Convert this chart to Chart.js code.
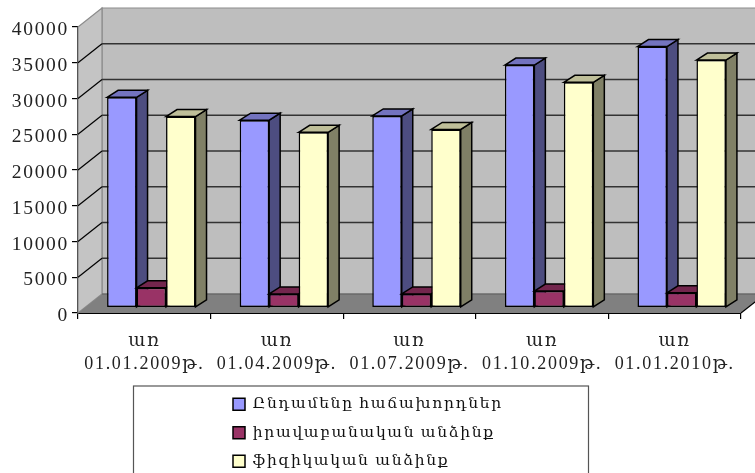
<!DOCTYPE html>
<html>
<head>
<meta charset="utf-8">
<script src="https://cdn.jsdelivr.net/npm/chart.js@4"></script>
<style>
  html, body { margin: 0; padding: 0; background: #fff; }
  #wrap { width: 755px; height: 473px; overflow: hidden; }
</style>
</head>
<body>
<div id="wrap"><canvas id="chart" width="755" height="473"></canvas></div>
<script>
const categories = ['01.01.2009թ.', '01.04.2009թ.', '01.07.2009թ.', '01.10.2009թ.', '01.01.2010թ.'];
const totalClients = [29400, 26200, 26800, 33900, 36500];
const legalEntities = [2750, 1900, 1900, 2300, 2050];
const individuals = [26700, 24500, 24900, 31500, 34600];

const FONT = '"Liberation Serif", "DejaVu Serif", serif';
const SPACING = '1.7px';

// fake 3d: how far the back wall sits from the front plane, and the bars inside it
const WALL_DX = 24, WALL_DY = 19;
const BAR_DX = 7, BAR_DY = 5.5;
const SIDE_DX = 11, SIDE_DY = 7;

const faces = [
  { front: '#9999FF', top: '#7373BF', side: '#4D4D80' },
  { front: '#993366', top: '#73264D', side: '#4D1A33' },
  { front: '#FFFFCC', top: '#BFBF99', side: '#808066' }
];

function poly(ctx, pts, fill, stroke, width) {
  ctx.beginPath();
  pts.forEach((p, i) => i ? ctx.lineTo(p[0], p[1]) : ctx.moveTo(p[0], p[1]));
  ctx.closePath();
  if (fill) { ctx.fillStyle = fill; ctx.fill(); }
  if (stroke) { ctx.strokeStyle = stroke; ctx.lineWidth = width; ctx.stroke(); }
}

const spacingPlugin = {
  id: 'spacing',
  beforeUpdate(chart) { chart.ctx.letterSpacing = SPACING; },
  beforeDraw(chart) { chart.ctx.letterSpacing = SPACING; }
};

// moves the built-in legend into its box under the chart
const legendBoxPlugin = {
  id: 'legendBox',
  afterLayout(chart) {
    const l = chart.legend;
    l.left = 220; l.top = 383.5;
    l.right = l.left + l.width; l.bottom = l.top + l.height;
    l.adjustHitBoxes();
  },
  beforeDraw(chart) {
    const ctx = chart.ctx;
    ctx.save();
    ctx.strokeStyle = '#555';
    ctx.lineWidth = 1.2;
    ctx.strokeRect(133.5, 386, 455, 100);
    ctx.restore();
  }
};

const walls = {
  id: 'walls',
  beforeDatasetsDraw(chart) {
    const ctx = chart.ctx, a = chart.chartArea, y = chart.scales.y;
    const x0 = a.left, x1 = a.right, yTop = a.top, yBase = a.bottom;
    ctx.save();
    poly(ctx, [[x0 + WALL_DX, yTop - WALL_DY], [x1 + WALL_DX, yTop - WALL_DY], [x1 + WALL_DX, yBase - WALL_DY], [x0 + WALL_DX, yBase - WALL_DY]], '#BEBEBE', '#8C8C8C', 1.2);
    poly(ctx, [[x0, yTop], [x0 + WALL_DX, yTop - WALL_DY], [x0 + WALL_DX, yBase - WALL_DY], [x0, yBase]], '#C4C4C4', '#8C8C8C', 1.2);
    poly(ctx, [[x0, yBase], [x1, yBase], [x1 + WALL_DX, yBase - WALL_DY], [x0 + WALL_DX, yBase - WALL_DY]], '#808080', null);
    y.ticks.forEach(t => {
      if (t.value === 0 || t.value === y.max) return;
      const py = y.getPixelForValue(t.value);
      ctx.lineWidth = 1.2;
      ctx.strokeStyle = '#000';
      ctx.beginPath(); ctx.moveTo(x0, py); ctx.lineTo(x0 + WALL_DX, py - WALL_DY); ctx.stroke();
      ctx.lineWidth = 1.6;
      ctx.strokeStyle = '#333';
      ctx.beginPath(); ctx.moveTo(x0 + WALL_DX, py - WALL_DY); ctx.lineTo(x1 + WALL_DX, py - WALL_DY); ctx.stroke();
    });
    // back edge of the floor, and its right edge
    ctx.strokeStyle = '#5C5C5C'; ctx.lineWidth = 1.2;
    ctx.beginPath(); ctx.moveTo(x0 + WALL_DX, yBase - WALL_DY); ctx.lineTo(x1 + WALL_DX, yBase - WALL_DY); ctx.stroke();
    ctx.strokeStyle = '#000';
    ctx.beginPath(); ctx.moveTo(x1, yBase); ctx.lineTo(x1 + WALL_DX, yBase - WALL_DY); ctx.stroke();
    ctx.restore();

    // bars sit a bit inside the floor, and must paint left to right so each
    // series covers the side face of the one before it
    ctx.save();
    ctx.translate(BAR_DX, -BAR_DY);
    chart.data.datasets.forEach((ds, i) => {
      const meta = chart.getDatasetMeta(i), c = faces[i];
      meta.data.forEach(bar => {
        const l = bar.x - bar.width / 2, r = bar.x + bar.width / 2, t = bar.y, b = bar.base;
        poly(ctx, [[r, t], [r + SIDE_DX, t - SIDE_DY], [r + SIDE_DX, b - SIDE_DY], [r, b]], c.side, '#000', 1.5);
        poly(ctx, [[l, t], [l + SIDE_DX, t - SIDE_DY], [r + SIDE_DX, t - SIDE_DY], [r, t]], c.top, '#000', 1.5);
      });
      meta.controller.draw();
    });
    ctx.restore();
    return false;
  }
};

function barSet(label, data, i) {
  return {
    label, data,
    backgroundColor: faces[i].front,
    borderColor: '#000',
    borderWidth: 1.5,
    borderSkipped: false,
    categoryPercentage: 0.667,
    barPercentage: 1
  };
}

new Chart(document.getElementById('chart'), {
  type: 'bar',
  data: {
    labels: categories.map(d => ['առ', d]),
    datasets: [
      barSet('Ընդամենը հաճախորդներ', totalClients, 0),
      barSet('իրավաբանական անձինք', legalEntities, 1),
      barSet('ֆիզիկական անձինք', individuals, 2)
    ]
  },
  options: {
    responsive: false,
    animation: false,
    events: [],
    layout: { padding: { top: 27, right: 14 } },
    plugins: {
      tooltip: { enabled: false },
      title: { display: false },
      legend: {
        position: 'chartArea',
        align: 'start',
        labels: { boxWidth: 12, boxHeight: 12, padding: 13, color: '#111', font: { family: FONT, size: 15.5 } }
      }
    },
    scales: {
      x: {
        afterFit(s) { s.height = 160; },
        grid: { drawOnChartArea: false, tickLength: 6, color: '#000', lineWidth: 1.2, offset: true },
        border: { color: '#000', width: 2 },
        ticks: { color: '#222', font: { family: FONT, size: 18, lineHeight: 1.3 }, padding: 10.5, maxRotation: 0, autoSkip: false }
      },
      y: {
        min: 0,
        max: 40000,
        afterFit(s) { s.width = 78; },
        grid: { drawOnChartArea: false, tickLength: 6, color: '#000', lineWidth: 1.2 },
        border: { color: '#000', width: 1.2 },
        ticks: { stepSize: 5000, color: '#222', padding: 3, labelOffset: 3, font: { family: FONT, size: 19.5 }, callback: v => String(v) }
      }
    }
  },
  plugins: [spacingPlugin, legendBoxPlugin, walls]
});
</script>
</body>
</html>
